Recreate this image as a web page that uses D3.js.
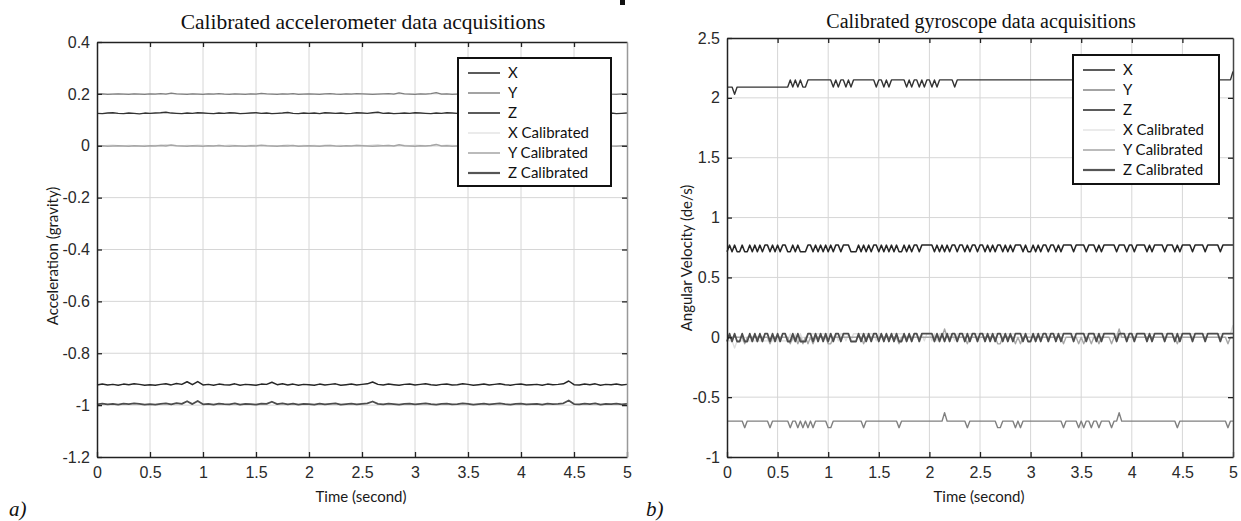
<!DOCTYPE html>
<html>
<head>
<meta charset="utf-8">
<script src="https://cdn.jsdelivr.net/npm/d3@7"></script>
<style>
  body { margin: 0; background: #fff; }
  svg { display: block; }
  .tick text { font-family: "Liberation Sans", Arial, sans-serif; font-size: 16px; fill: #2a2a2a; }
</style>
</head>
<body>
<svg id="chart" width="1241" height="521"></svg>
<script>
// ---------------- data ----------------
const timeTicks = [0, 0.5, 1, 1.5, 2, 2.5, 3, 3.5, 4, 4.5, 5];
const accTicks = [-1.2, -1, -0.8, -0.6, -0.4, -0.2, 0, 0.2, 0.4];
const accTickLabels = ['-1.2', '-1', '-0.8', '-0.6', '-0.4', '-0.2', '0', '0.2', '0.4'];
const gyroTicks = [-1, -0.5, 0, 0.5, 1, 1.5, 2, 2.5];
const gyroTickLabels = ['-1', '-0.5', '0', '0.5', '1', '1.5', '2', '2.5'];

const seriesNames = ['X', 'Y', 'Z', 'X Calibrated', 'Y Calibrated', 'Z Calibrated'];

// accelerometer: readings every 0.05 s, noise in milli-g around each series offset
const accStep = 0.05;
const accNoiseX = [
  0,-1,1,2,0,-1,1,0,-2,1, 0,1,2,4,1,0,-1,1,0,2, 1,0,-1,1,0,2,1,-1,0,1,
  2,0,1,-1,0,1,3,0,-1,1, 0,1,-1,2,1,0,1,-1,0,2, 1,0,2,4,0,1,-1,0,1,0,
  2,1,0,-1,1,0,2,1,0,-1, 1,0,2,0,-1,1,0,1,3,0, 1,-1,0,2,1,0,1,-1,2,5,
  0,1,-1,0,2,1,0,1,-1,0, 1];
const accNoiseY = [
  0,1,-1,0,1,0,-1,1,0,-1, 1,0,2,0,4,1,0,-1,1,0, -1,1,0,2,0,-1,1,0,-1,1,
  0,3,1,0,-1,1,0,2,-1,0, 1,0,-1,1,2,0,-1,1,0,2, 1,0,-1,0,1,2,0,5,1,0,
  -1,1,0,2,6,0,1,-1,0,1, 2,0,-1,1,0,-1,1,0,2,0, 0,1,-1,0,1,2,0,-1,1,3,
  0,1,0,-1,1,0,2,0,-1,1, 0];
const accNoiseZ = [
  -1,2,-1,1,-2,2,0,3,1,-2, 0,-2,1,3,-1,4,1,11,0,12, -1,1,-2,2,0,-1,3,-2,1,0,
  -2,2,1,9,0,3,-1,2,-2,1, 0,-2,2,-1,1,3,-2,0,2,-1, 1,3,10,1,-1,2,0,-2,1,2,
  -1,1,3,0,-2,1,2,-1,0,3, 1,-2,0,2,-1,1,3,0,-2,1, 2,-1,0,1,-2,2,0,1,3,14,
  0,-1,2,0,3,-2,1,0,2,-1, 1];
// offsets (g) for X, Y, Z, X Cal, Y Cal, Z Cal
const accOffsets = [0.125, 0.199, -0.921, 0.0, -0.001, -0.996];

// gyroscope: quantised readings every 0.025 s, stored as level codes
const gyroStep = 0.025;
const gyroCodesX = [
  1,1,1,0,1,1,1,1,1,1, 1,1,1,1,1,1,1,1,1,1, 1,1,1,1,1,2,1,2,1,2,
  1,1,2,2,2,2,2,2,2,2, 2,2,1,2,1,2,2,1,2,1, 2,2,2,2,2,2,2,2,2,1,
  2,2,1,2,1,2,2,2,2,2, 2,1,2,1,2,2,1,2,1,2, 2,1,2,1,2,2,2,2,2,2,
  1,2,2,2,2,2,2,2,2,2, 2,2,2,2,2,2,2,2,2,2, 2,2,2,2,2,2,2,2,2,2,
  2,2,2,2,2,2,2,2,2,2, 2,2,2,2,2,2,2,2,2,2, 2,2,2,2,2,2,2,2,2,2,
  2,2,2,2,2,2,2,2,2,2, 2,2,2,2,2,2,2,2,2,2, 2,2,2,2,2,2,2,2,2,2,
  2,2,2,2,2,2,2,2,2,2, 2,2,2,2,2,2,2,2,2,2, 3];
const gyroCodesY = [
  1,1,1,1,1,1,1,0,1,1, 1,1,1,1,1,1,1,0,1,1, 1,1,1,1,1,0,1,1,0,1,
  0,1,0,1,0,1,1,1,1,1, 0,0,1,1,1,1,1,1,1,1, 1,1,1,1,0,1,1,1,1,1,
  1,1,1,1,1,1,1,1,0,1, 1,1,1,1,1,1,1,1,1,1, 1,1,1,1,1,1,2,1,1,1,
  1,1,1,1,1,0,1,1,1,1, 1,1,1,1,1,1,1,0,0,1, 1,1,1,1,0,1,0,1,1,1,
  1,1,1,1,1,1,1,1,1,1, 1,1,1,0,1,1,1,1,1,0, 1,0,1,1,0,1,1,0,1,1,
  1,1,0,1,1,2,1,1,1,1, 1,1,1,1,1,1,1,1,1,1, 1,1,1,1,1,1,1,1,0,1,
  1,1,1,1,1,1,1,1,1,1, 1,1,1,1,1,1,1,1,0,1, 1];
const gyroCodesZ = [
  0,1,0,1,0,0,1,0,0,1, 0,1,0,1,0,1,1,0,1,0, 1,0,1,1,0,0,1,0,1,0,
  0,0,1,1,0,1,0,1,0,1, 0,1,0,1,1,0,1,1,1,0, 0,0,1,0,1,0,1,0,1,1,
  0,1,0,1,0,1,0,1,0,0, 1,0,1,0,1,1,0,1,1,1, 1,1,0,1,0,1,0,1,0,1,
  1,0,1,1,0,1,0,1,1,0, 1,1,0,1,0,1,0,1,1,0, 1,0,1,0,1,1,1,0,1,0,
  0,1,0,1,0,1,1,0,1,1, 0,1,0,1,1,1,1,0,1,1, 1,1,0,1,1,1,0,1,0,1,
  1,1,1,1,0,1,1,1,0,1, 1,0,1,1,1,1,0,1,0,1, 1,1,1,0,1,1,1,0,1,0,
  1,1,1,1,0,1,1,1,1,0, 1,1,1,1,1,0,1,1,1,1, 1];
// value of each code (deg/s)
const gyroLevelsX = [2.03, 2.09, 2.15, 2.22];
const gyroLevelsY = [-0.755, -0.70, -0.63];
const gyroLevelsZ = [0.715, 0.77];
const gyroLevelsXCal = [-0.09, -0.03, 0.03, 0.10];
const gyroLevelsYCal = [-0.055, 0.0, 0.07];
const gyroLevelsZCal = [-0.035, 0.03];

// ---------------- drawing ----------------
const svg = d3.select('#chart');
const lineColor = ['#333', '#808080', '#262626', '#dedede', '#a6a6a6', '#4d4d4d'];
const lineWidth = [1.4, 1.4, 1.5, 1.4, 1.4, 1.8];
const legendColor = ['#333', '#8c8c8c', '#333', '#e6e6e6', '#aaa', '#555'];

function accSeries(noise, offset) {
  return noise.map((v, i) => [i * accStep, offset + v / 1000]);
}
function gyroSeries(codes, levels) {
  return codes.map((c, i) => [i * gyroStep, levels[c]]);
}

function drawPanel(p) {
  const x = d3.scaleLinear().domain([0, 5]).range([p.left, p.right]);
  const y = d3.scaleLinear().domain(p.yDomain).range([p.bottom, p.top]);
  const g = svg.append('g');

  // grid
  g.append('g').selectAll('line').data(timeTicks.slice(1, -1)).enter().append('line')
    .attr('x1', d => x(d)).attr('x2', d => x(d))
    .attr('y1', p.top).attr('y2', p.bottom)
    .style('stroke', '#d6d6d6').style('stroke-width', 1);
  g.append('g').selectAll('line').data(p.yTicks.slice(1, -1)).enter().append('line')
    .attr('x1', p.left).attr('x2', p.right)
    .attr('y1', d => y(d)).attr('y2', d => y(d))
    .style('stroke', '#d6d6d6').style('stroke-width', 1);

  // data lines
  const line = d3.line().x(d => x(d[0])).y(d => y(d[1]));
  g.append('g').selectAll('path').data(p.series).enter().append('path')
    .attr('d', line)
    .style('fill', 'none')
    .style('stroke', (d, i) => lineColor[i])
    .style('stroke-width', (d, i) => lineWidth[i])
    .style('stroke-linejoin', 'round');

  // axes, MATLAB style ticks pointing inward
  const fmt = d => String(d);
  g.append('g').attr('transform', 'translate(0,' + p.bottom + ')')
    .call(d3.axisBottom(x).tickValues(timeTicks).tickFormat(fmt).tickSizeInner(-5).tickSizeOuter(0).tickPadding(10));
  g.append('g').attr('transform', 'translate(0,' + p.top + ')')
    .call(d3.axisTop(x).tickValues(timeTicks.slice(1, -1)).tickFormat('').tickSizeInner(-5).tickSizeOuter(0));
  g.append('g').attr('transform', 'translate(' + p.left + ',0)')
    .call(d3.axisLeft(y).tickValues(p.yTicks).tickFormat((d, i) => p.yLabels[i]).tickSizeInner(-5).tickSizeOuter(0).tickPadding(7));
  g.append('g').attr('class', 'raxis').attr('transform', 'translate(' + p.right + ',0)')
    .call(d3.axisRight(y).tickValues(p.yTicks.slice(1, -1)).tickFormat('').tickSizeInner(-5).tickSizeOuter(0));
  g.selectAll('.domain').style('stroke', '#222').style('stroke-width', 1.5);
  g.selectAll('.tick line').style('stroke', '#222').style('stroke-width', 1.3);
  g.select('.raxis .domain').style('stroke', p.rightColor);

  // titles and axis labels
  g.append('text').attr('x', p.titleX).attr('y', p.titleY)
    .attr('text-anchor', 'middle')
    .style('font-family', '"Liberation Serif", "Times New Roman", serif')
    .style('font-size', p.titleSize).style('fill', '#111')
    .text(p.title);
  g.append('text').attr('x', (p.left + p.right) / 2 - 1).attr('y', 502)
    .attr('text-anchor', 'middle')
    .style('font-family', 'Lato, sans-serif').style('font-size', '15px').style('fill', '#1a1a1a')
    .text('Time (second)');
  g.append('text')
    .attr('transform', 'translate(' + p.yLabelX + ',' + p.yLabelY + ') rotate(-90)')
    .attr('text-anchor', 'middle')
    .style('font-family', 'Lato, sans-serif').style('font-size', '15px').style('fill', '#1a1a1a')
    .text(p.yLabel);

  // legend
  const lg = g.append('g').attr('transform', 'translate(' + p.legend[0] + ',' + p.legend[1] + ')');
  lg.append('rect').attr('width', p.legend[2]).attr('height', p.legend[3])
    .style('fill', '#fff').style('stroke', '#111').style('stroke-width', 2);
  const items = lg.selectAll('g.item').data(seriesNames).enter().append('g')
    .attr('class', 'item')
    .attr('transform', (d, i) => 'translate(0,' + (15 + i * 20) + ')');
  items.append('line').attr('x1', 10).attr('x2', 42)
    .style('stroke', (d, i) => legendColor[i])
    .style('stroke-width', (d, i) => i === 5 ? 2.2 : 1.6);
  items.append('text').attr('x', 50).attr('dy', '0.35em')
    .style('font-family', 'Lato, sans-serif').style('font-size', '15px').style('fill', '#111')
    .text(d => d);

  // panel letter
  svg.append('text').attr('x', p.letterX).attr('y', 516)
    .style('font-family', '"Liberation Serif", "Times New Roman", serif')
    .style('font-style', 'italic').style('font-size', '21px').style('fill', '#111')
    .text(p.letter);
}

const accSeriesList = [
  accSeries(accNoiseX, accOffsets[0]),
  accSeries(accNoiseY, accOffsets[1]),
  accSeries(accNoiseZ, accOffsets[2]),
  accSeries(accNoiseX, accOffsets[3]),
  accSeries(accNoiseY, accOffsets[4]),
  accSeries(accNoiseZ, accOffsets[5])
];
const gyroSeriesList = [
  gyroSeries(gyroCodesX, gyroLevelsX),
  gyroSeries(gyroCodesY, gyroLevelsY),
  gyroSeries(gyroCodesZ, gyroLevelsZ),
  gyroSeries(gyroCodesX, gyroLevelsXCal),
  gyroSeries(gyroCodesY, gyroLevelsYCal),
  gyroSeries(gyroCodesZ, gyroLevelsZCal)
];

drawPanel({
  left: 97, right: 627, top: 42, bottom: 457,
  yDomain: [-1.2, 0.4], yTicks: accTicks, yLabels: accTickLabels,
  series: accSeriesList,
  title: 'Calibrated accelerometer data acquisitions', titleX: 363, titleY: 29, titleSize: '21.5px',
  yLabel: 'Acceleration (gravity)', yLabelX: 58, yLabelY: 256,
  legend: [458, 58, 153, 128], rightColor: '#999',
  letter: 'a)', letterX: 9
});
drawPanel({
  left: 727, right: 1233, top: 38, bottom: 457,
  yDomain: [-1, 2.5], yTicks: gyroTicks, yLabels: gyroTickLabels,
  series: gyroSeriesList,
  title: 'Calibrated gyroscope data acquisitions', titleX: 981, titleY: 28, titleSize: '20px',
  yLabel: 'Angular Velocity (de/s)', yLabelX: 692, yLabelY: 258,
  legend: [1073, 55, 146, 129], rightColor: '#444',
  letter: 'b)', letterX: 646
});

// small dark mark at the top edge between the panels
svg.append('rect').attr('x', 620).attr('y', 0).attr('width', 5).attr('height', 5).style('fill', '#111');
</script>
</body>
</html>
